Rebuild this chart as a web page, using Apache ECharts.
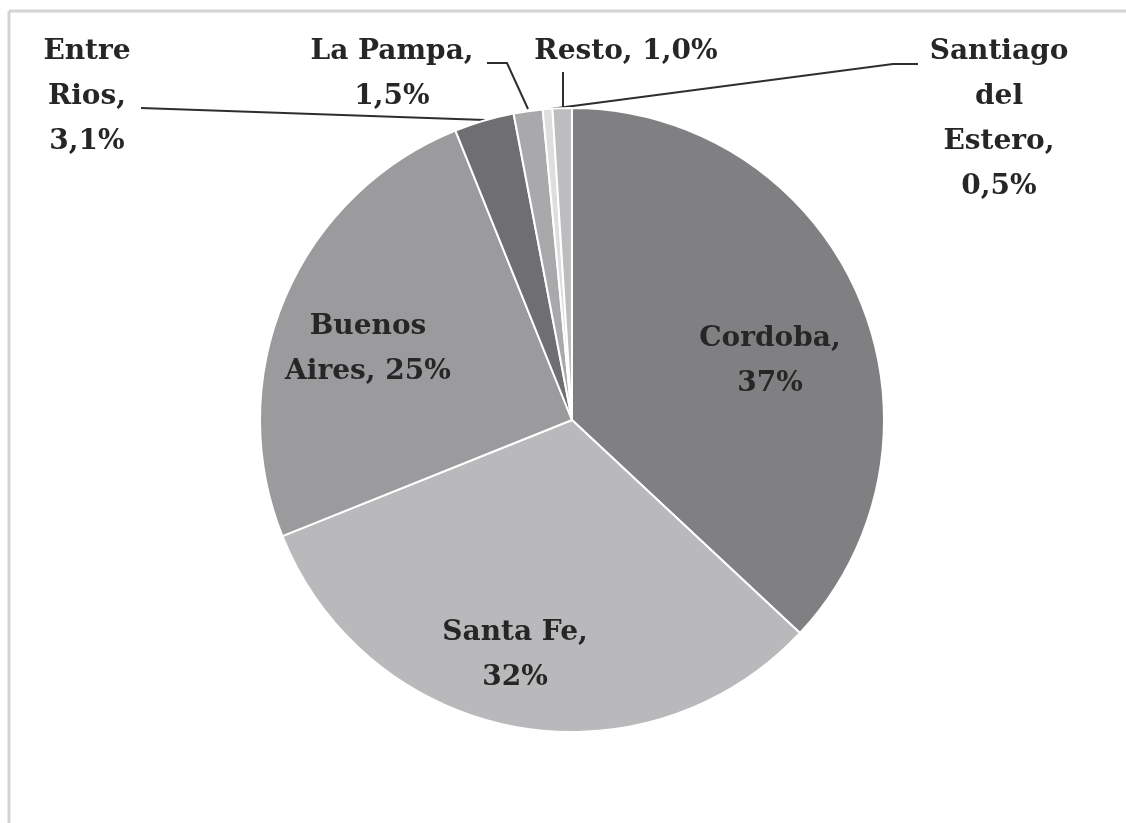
<!DOCTYPE html>
<html>
<head>
<meta charset="utf-8">
<script src="https://cdn.jsdelivr.net/npm/echarts@6/dist/echarts.min.js"></script>
<style>
  html, body { margin: 0; padding: 0; background: #ffffff; }
  #chart { width: 1126px; height: 823px; }
</style>
</head>
<body>
<div id="chart"></div>
<script>
// provinces, clockwise from 12 o'clock
var provinces = ['Cordoba', 'Santa Fe', 'Buenos Aires', 'Entre Rios', 'La Pampa', 'Santiago del Estero', 'Resto'];
var shares = [37, 32, 25, 3.1, 1.5, 0.5, 1.0];
var labelTexts = [
  'Cordoba,\n37%',
  'Santa Fe,\n32%',
  'Buenos\nAires, 25%',
  'Entre\nRios,\n3,1%',
  'La Pampa,\n1,5%',
  'Santiago\ndel\nEstero,\n0,5%',
  'Resto, 1,0%'
];
var sliceColors = ['#808083', '#b9b9bb', '#9b9b9e', '#6f6f72', '#a9a9ab', '#dedede', '#bdbdbf'];

// where each label sits (centre of text block) and its leader line, by index
var labelPos = [
  { x: 770, y: 361 },
  { x: 515, y: 655 },
  { x: 368, y: 349 },
  { x: 87, y: 97, line: [[141, 108], [485, 120]] },
  { x: 392, y: 74, line: [[487, 63], [507, 63], [528, 109]] },
  { x: 999, y: 119, line: [[918, 64], [893, 64], [550, 109]] },
  { x: 626, y: 52, line: [[563, 72], [563, 108]] }
];

var chart = echarts.init(document.getElementById('chart'));

var data = provinces.map(function (name, i) {
  return {
    name: name,
    value: shares[i],
    itemStyle: { color: sliceColors[i] },
    labelLine: { show: !!labelPos[i].line }
  };
});

var option = {
  backgroundColor: '#ffffff',
  animation: false,
  graphic: [
    { type: 'line', shape: { x1: 9, y1: 11, x2: 1126, y2: 11 }, style: { stroke: '#d3d3d3', lineWidth: 3 } },
    { type: 'line', shape: { x1: 9, y1: 11, x2: 9, y2: 823 }, style: { stroke: '#d3d3d3', lineWidth: 3 } }
  ],
  series: [{
    type: 'pie',
    center: [572, 420],
    radius: 312,
    startAngle: 90,
    clockwise: true,
    avoidLabelOverlap: false,
    itemStyle: { borderColor: '#ffffff', borderWidth: 2 },
    label: {
      show: true,
      position: 'outside',
      formatter: function (p) { return labelTexts[p.dataIndex]; },
      fontFamily: 'DejaVu Serif',
      fontWeight: 'bold',
      fontSize: 28,
      lineHeight: 45,
      color: '#262626',
      align: 'center'
    },
    labelLine: {
      show: true,
      lineStyle: { color: '#2e2e2e', width: 2 }
    },
    labelLayout: function (params) {
      var p = labelPos[params.dataIndex];
      var out = { x: p.x, y: p.y, align: 'center', verticalAlign: 'middle', hideOverlap: false };
      if (p.line) out.labelLinePoints = p.line;
      return out;
    },
    data: data
  }]
};

chart.setOption(option);
</script>
</body>
</html>
